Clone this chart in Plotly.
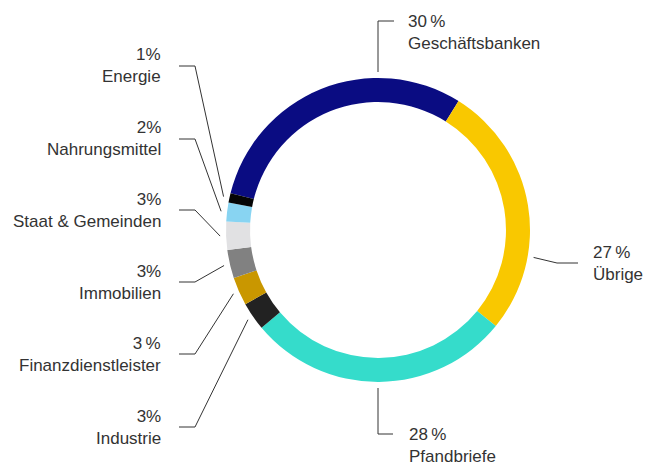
import math
import plotly.graph_objects as go

# ---- data ----
categories = ["Geschäftsbanken", "Übrige", "Pfandbriefe", "Industrie",
              "Finanzdienstleister", "Immobilien", "Staat & Gemeinden",
              "Nahrungsmittel", "Energie"]
values = [30, 27, 28, 3, 3, 3, 3, 2, 1]
pct_labels = ["30\u2009%", "27\u2009%", "28\u2009%", "3%", "3\u2009%", "3%", "3%", "2%", "1%"]
colors = ["#0a0c82", "#f9c800", "#35dccb", "#222222", "#c99700",
          "#818181", "#e1e1e3", "#88d4f2", "#050505"]

W, H = 648, 466
CX, CY, R = 378, 230, 152
HOLE = 0.842
ROT = -76  # start angle of first slice (clockwise from 12 o'clock)


def px(x):
    return x / W


def py(y):
    return 1 - y / H


fig = go.Figure(go.Pie(
    labels=categories, values=values, sort=False, direction="clockwise",
    rotation=ROT, hole=HOLE, textinfo="none", hoverinfo="label+percent",
    marker=dict(colors=colors, line=dict(width=0)),
    domain=dict(x=[px(CX - R), px(CX + R)], y=[py(CY + R), py(CY - R)]),
    showlegend=False,
))

total = sum(values)
cum = 0
mids = []
for v in values:
    mids.append(ROT + (cum + v / 2) / total * 360)
    cum += v


def ring_pt(angle_deg, r):
    a = math.radians(angle_deg)
    return CX + r * math.sin(a), CY - r * math.cos(a)


FONT = dict(family="Liberation Sans, Arial, sans-serif", size=17, color="#333333")
LINE = dict(color="#333333", width=1)
shapes = []
annotations = []


def path(points):
    d = "M " + " L ".join(f"{px(x)},{py(y)}" for x, y in points)
    return dict(type="path", xref="paper", yref="paper", path=d, line=LINE)


# left-side small labels: (index, label-block center y)
left_specs = [(8, 66), (7, 139), (6, 210), (5, 282), (4, 354), (3, 427)]
for i, ly in left_specs:
    ex, ey = ring_pt(mids[i], 158)
    shapes.append(path([(179, ly), (195, ly), (ex, ey)]))
    annotations.append(dict(
        x=px(163), y=py(ly), xref="paper", yref="paper", xanchor="right",
        yanchor="middle", align="right", showarrow=False, font=FONT,
        text=f"{pct_labels[i]}<br>{categories[i]}"))

# Geschäftsbanken (top)
gx, gy = ring_pt(0, 158)
shapes.append(path([(gx, gy), (gx, 21), (394, 21)]))
annotations.append(dict(
    x=px(406), y=py(32), xref="paper", yref="paper", xanchor="left",
    yanchor="middle", align="left", showarrow=False, font=FONT,
    text=f"{pct_labels[0]}<br>{categories[0]}"))

# Übrige (right)
ux, uy = ring_pt(100, 158)
shapes.append(path([(ux, uy), (557, 263), (578, 263)]))
annotations.append(dict(
    x=px(591), y=py(263), xref="paper", yref="paper", xanchor="left",
    yanchor="middle", align="left", showarrow=False, font=FONT,
    text=f"{pct_labels[1]}<br>{categories[1]}"))

# Pfandbriefe (bottom)
bx, by = ring_pt(180, 158)
shapes.append(path([(bx, by), (bx, 434), (393, 434)]))
annotations.append(dict(
    x=px(407), y=py(445), xref="paper", yref="paper", xanchor="left",
    yanchor="middle", align="left", showarrow=False, font=FONT,
    text=f"{pct_labels[2]}<br>{categories[2]}"))

fig.update_layout(
    width=W, height=H, margin=dict(l=0, r=0, t=0, b=0),
    paper_bgcolor="white", plot_bgcolor="white",
    shapes=shapes, annotations=annotations,
)

fig.write_html("out.html", config={"displayModeBar": False},
               post_script="document.body.style.margin='0';document.body.style.overflow='hidden';")
